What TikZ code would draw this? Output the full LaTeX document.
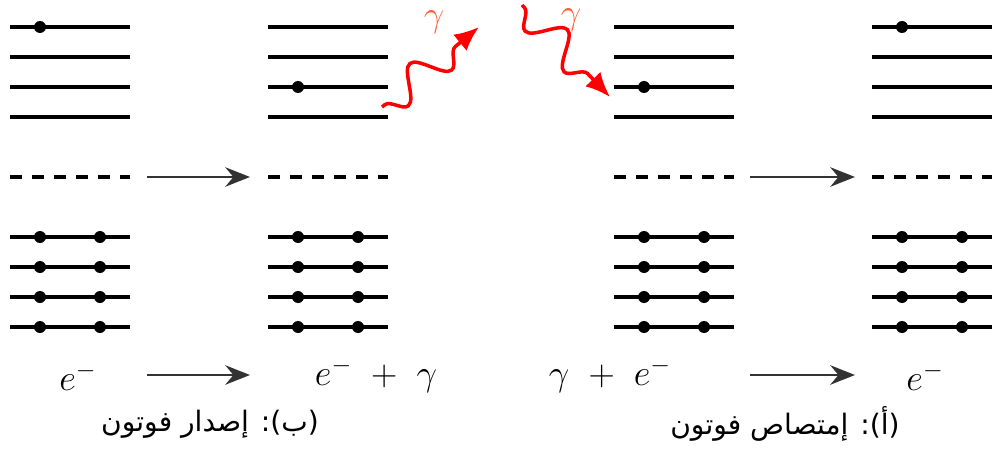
\documentclass[tikz,border=0pt]{standalone}
\usepackage{fontspec}
\usetikzlibrary{arrows.meta,decorations.pathmorphing}
\newfontfamily\arabicfont[Script=Arabic]{DejaVu Sans}
\TeXXeTstate=1
\definecolor{gammared}{RGB}{255,95,60}
\tikzset{
  level/.style={line width=2pt},
  gap/.style={line width=2pt,dash pattern=on 7pt off 5.5pt},
  electron/.style={fill=black,draw=none},
  transition/.style={-{Stealth[length=14pt,width=11pt]},line width=1.7pt,draw=black!80,fill=black!80},
  photon/.style={-{Latex[length=14pt,width=12pt]},red,line width=2pt,
    decorate,decoration={snake,mirror,amplitude=9pt,segment length=32pt,pre length=2pt,post length=12pt}},
  photonlabel/.style={text=gammared,font=\huge},
  caption/.style={font=\fontsize{16}{19}\selectfont\arabicfont}
}
\begin{document}
\begin{tikzpicture}[font=\huge,>=Latex]
\useasboundingbox (0,0) rectangle (19.84,9);
% panel left edges; the upper dot row depends on the panel
\foreach \px/\dotrow in {0.2/8.46,5.36/7.26,12.28/7.26,17.44/8.46}{
  \foreach \ly in {6.66,7.26,7.86,8.46}
    \draw[level] (\px,\ly) -- ++(2.4,0);
  \draw[gap] (\px,5.46) -- ++(2.4,0);
  \foreach \ly in {2.46,3.06,3.66,4.26}{
    \draw[level] (\px,\ly) -- ++(2.4,0);
    \fill[electron] (\px+0.6,\ly) circle (0.12);
    \fill[electron] (\px+1.8,\ly) circle (0.12);
  }
  \fill[electron] (\px+0.6,\dotrow) circle (0.12);
}
\coordinate (emitA) at (2.94,5.46);
\coordinate (emitB) at (5.0,5.46);
\coordinate (absA) at (15.0,5.46);
\coordinate (absB) at (17.1,5.46);
\draw[transition] (emitA) -- (emitB);
\draw[transition] (absA) -- (absB);
\node (eIn) at (1.56,1.46) {$e^{-}$};
\node (eOut) at (7.52,1.5) {$e^{-}\ +\ \gamma$};
\coordinate (sumA) at (2.94,1.5);
\coordinate (sumB) at (5.0,1.5);
\draw[transition] (sumA) -- (sumB);
\node (gIn) at (12.2,1.5) {$\gamma\ +\ e^{-}$};
\node (eEnd) at (18.5,1.46) {$e^{-}$};
\coordinate (sumC) at (15.0,1.5);
\coordinate (sumD) at (17.1,1.5);
\draw[transition] (sumC) -- (sumD);
% photons
\coordinate (outStart) at (7.64,6.86);
\coordinate (outEnd) at (9.58,8.46);
\draw[photon] (outStart) -- (outEnd);
\node[photonlabel] (gOut) at (8.68,8.55) {$\gamma$};
\coordinate (inStart) at (10.44,8.9);
\coordinate (inEnd) at (12.2,7.06);
\draw[photon] (inStart) -- (inEnd);
\node[photonlabel,anchor=north,inner sep=1pt] (gAbs) at (11.42,8.86) {$\gamma$};
\node[caption] (emitCap) at (4.2,0.52) {\beginR(ب): إصدار فوتون\endR};
\node[caption] (absCap) at (15.7,0.52) {\beginR(أ): إمتصاص فوتون\endR};
\end{tikzpicture}
\end{document}
